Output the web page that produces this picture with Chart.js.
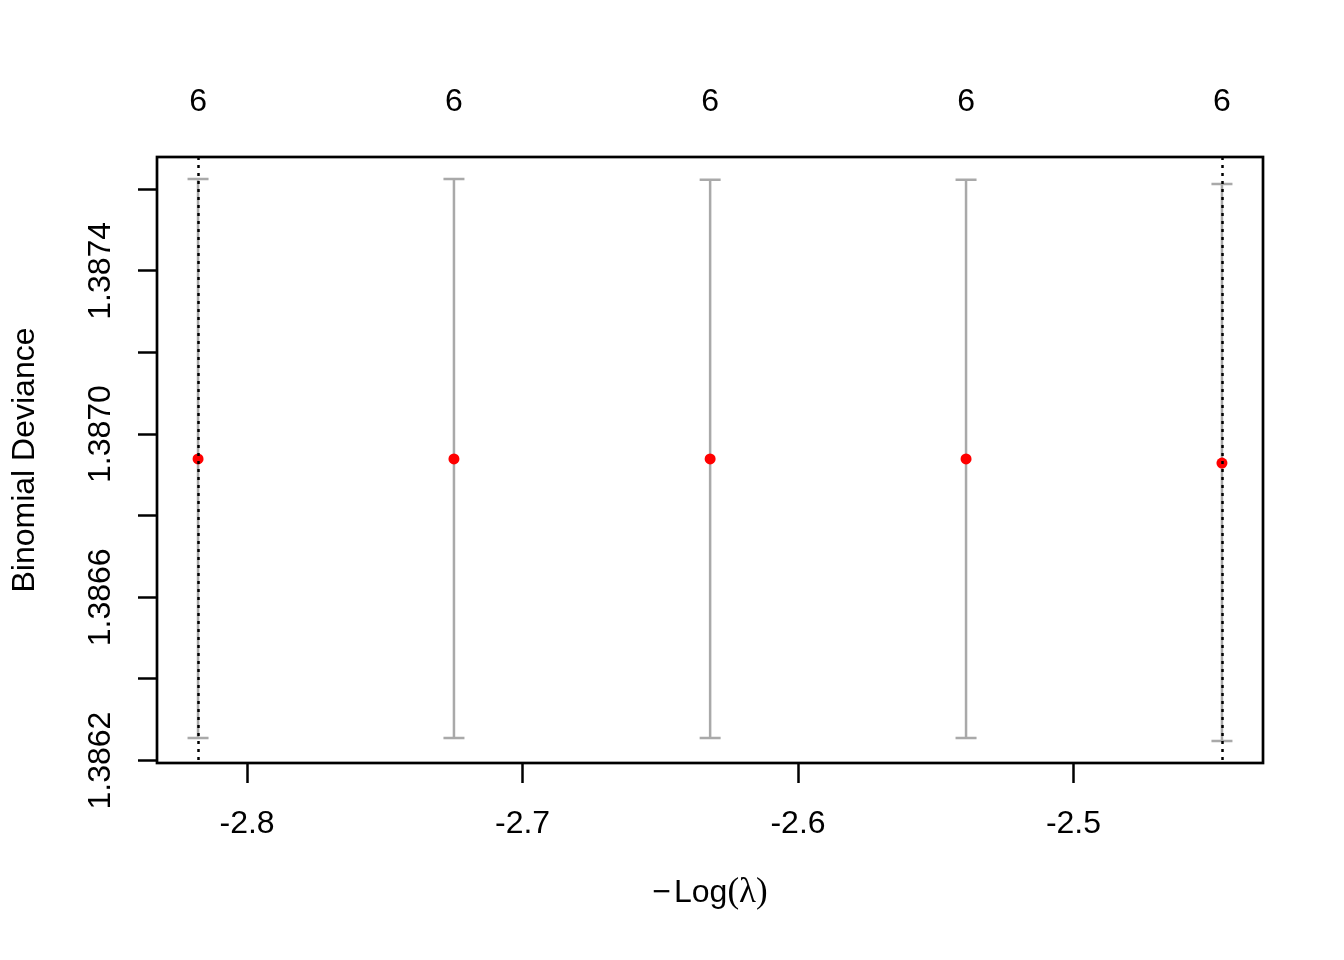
<!DOCTYPE html>
<html>
<head>
<meta charset="utf-8">
<script src="https://cdn.jsdelivr.net/npm/chart.js@4"></script>
<style>
  body { margin: 0; background: #fff; }
  #cv_chart { display: block; }
</style>
</head>
<body>
<canvas id="cv_chart" width="1344" height="960"></canvas>
<script>
// -log(lambda) values along the path, and the cross-validated deviance
const log_lambda = [-2.8178, -2.7249, -2.6319, -2.5390, -2.4461];
const cv_mean = [1.386939, 1.386939, 1.386939, 1.386939, 1.386929];
const cv_upper = [1.387625, 1.387625, 1.387623, 1.387623, 1.387613];
const cv_lower = [1.386255, 1.386255, 1.386255, 1.386255, 1.386248];
const n_zero = [6, 6, 6, 6, 6];

const x_ticks = [-2.8, -2.7, -2.6, -2.5];
const y_ticks = [1.3862, 1.3864, 1.3866, 1.3868, 1.3870, 1.3872, 1.3874, 1.3876];
const y_labelled = [1.3862, 1.3866, 1.3870, 1.3874];
const x_range = [-2.8327, -2.4312];
const y_range = [1.386194, 1.387679];
const lambda_lines = [log_lambda[0], log_lambda[4]];

const SANS = "'Liberation Sans', Arial, sans-serif";
const SERIF = "'Liberation Serif', 'Times New Roman', serif";

var cvPlugin = {
    id: 'cvPlugin',
    beforeDatasetsDraw: function (chart) {
        // error bars
        let ctx = chart.ctx;
        let xs = chart.scales.x, ys = chart.scales.y;
        ctx.save();
        ctx.strokeStyle = '#A9A9A9';
        ctx.lineWidth = 2.5;
        for (let i = 0; i < log_lambda.length; i++) {
            let px = xs.getPixelForValue(log_lambda[i]);
            let top = ys.getPixelForValue(cv_upper[i]);
            let bot = ys.getPixelForValue(cv_lower[i]);
            ctx.beginPath();
            ctx.moveTo(px, top); ctx.lineTo(px, bot);
            ctx.moveTo(px - 10.5, top); ctx.lineTo(px + 10.5, top);
            ctx.moveTo(px - 10.5, bot); ctx.lineTo(px + 10.5, bot);
            ctx.stroke();
        }
        ctx.restore();
    },
    afterDatasetsDraw: function (chart) {
        let ctx = chart.ctx;
        let area = chart.chartArea;
        let xs = chart.scales.x, ys = chart.scales.y;
        ctx.save();
        // dotted lines at lambda.min and lambda.1se
        ctx.strokeStyle = '#000';
        ctx.lineWidth = 2.5;
        ctx.setLineDash([3, 5]);
        lambda_lines.forEach(function (v) {
            let px = Math.round(xs.getPixelForValue(v)) + 0.5;
            ctx.beginPath();
            ctx.moveTo(px, area.top);
            ctx.lineTo(px, area.bottom);
            ctx.stroke();
        });
        ctx.setLineDash([]);

        // box
        ctx.lineWidth = 2.7;
        ctx.strokeRect(area.left, area.top, area.right - area.left, area.bottom - area.top);

        // y tick labels, rotated like R
        ctx.fillStyle = '#000';
        ctx.font = '32px ' + SANS;
        ctx.textAlign = 'center';
        ctx.textBaseline = 'middle';
        y_labelled.forEach(function (v) {
            let py = ys.getPixelForValue(v);
            ctx.save();
            ctx.translate(101, py);
            ctx.rotate(-Math.PI / 2);
            ctx.fillText(v.toFixed(4), 0, 0);
            ctx.restore();
        });

        // y axis title
        ctx.save();
        ctx.translate(25, (area.top + area.bottom) / 2);
        ctx.rotate(-Math.PI / 2);
        ctx.fillText('Binomial Deviance', 0, 0);
        ctx.restore();

        // x axis title: −Log(λ)
        let parts = [
            { t: '\u2212', f: '32px ' + SANS },
            { t: 'Log', f: '32px ' + SANS },
            { t: '(\u03BB)', f: '35px ' + SERIF }
        ];
        let total = 0;
        parts.forEach(function (p) { ctx.font = p.f; p.w = ctx.measureText(p.t).width; total += p.w; });
        total += 3;
        let cx = (area.left + area.right) / 2 - total / 2;
        ctx.textAlign = 'left';
        parts.forEach(function (p, i) {
            ctx.font = p.f;
            ctx.fillText(p.t, cx, 893);
            cx += p.w + (i === 0 ? 3 : 0);
        });
        ctx.restore();
    }
};

var cv_chart = new Chart(document.getElementById('cv_chart').getContext('2d'), {
    type: 'scatter',
    data: {
        datasets: [{
            data: log_lambda.map(function (v, i) { return { x: v, y: cv_mean[i] }; }),
            backgroundColor: '#FF0000',
            borderColor: '#FF0000',
            pointRadius: 5.5,
            pointBorderWidth: 0
        }]
    },
    options: {
        responsive: false,
        animation: false,
        devicePixelRatio: 1,
        layout: { padding: { left: 0, top: 0, right: 81, bottom: 0 } },
        plugins: {
            legend: { display: false },
            tooltip: { enabled: false }
        },
        scales: {
            x: {
                type: 'linear',
                position: 'bottom',
                min: x_range[0],
                max: x_range[1],
                afterBuildTicks: function (scale) {
                    scale.ticks = x_ticks.map(function (v) { return { value: v }; });
                },
                afterFit: function (scale) { scale.height = 197; },
                grid: {
                    drawOnChartArea: false,
                    drawTicks: true,
                    tickLength: 20,
                    tickWidth: 2.5,
                    tickColor: '#000'
                },
                border: { display: false },
                ticks: {
                    autoSkip: false,
                    maxRotation: 0,
                    padding: 22,
                    color: '#000',
                    font: { family: SANS, size: 32 },
                    callback: function (v) { return v.toFixed(1); }
                }
            },
            x2: {
                type: 'linear',
                position: 'top',
                min: x_range[0],
                max: x_range[1],
                afterBuildTicks: function (scale) {
                    scale.ticks = log_lambda.map(function (v) { return { value: v }; });
                },
                afterFit: function (scale) { scale.height = 157; },
                grid: { display: false, drawTicks: false },
                border: { display: false },
                ticks: {
                    autoSkip: false,
                    maxRotation: 0,
                    padding: 36,
                    color: '#000',
                    font: { family: SANS, size: 32 },
                    callback: function (v, idx) { return String(n_zero[idx]); }
                }
            },
            y: {
                type: 'linear',
                position: 'left',
                min: y_range[0],
                max: y_range[1],
                afterBuildTicks: function (scale) {
                    scale.ticks = y_ticks.map(function (v) { return { value: v }; });
                },
                afterFit: function (scale) { scale.width = 157; },
                grid: {
                    drawOnChartArea: false,
                    drawTicks: true,
                    tickLength: 19,
                    tickWidth: 2.5,
                    tickColor: '#000'
                },
                border: { display: false },
                ticks: { display: false }
            }
        }
    },
    plugins: [cvPlugin]
});
</script>
</body>
</html>
